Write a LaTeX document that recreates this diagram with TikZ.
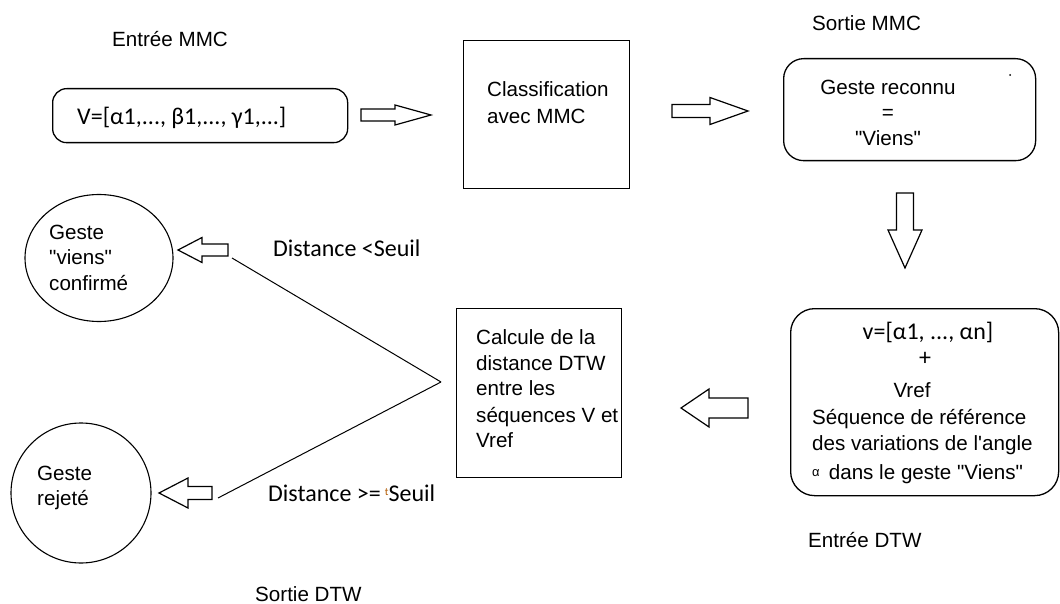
\documentclass[tikz,border=0pt]{standalone}
\usepackage{fontspec}
\setmainfont{Liberation Sans}
\newfontfamily\calf{Carlito}
\usetikzlibrary{shapes.geometric}
\tikzset{
  box/.style={draw, line width=1.3pt, inner sep=0pt},
  rbox/.style={draw, line width=1.3pt, inner sep=0pt, rounded corners=#1},
  oval/.style={draw, line width=1.1pt, inner sep=0pt},
  ar/.style={font=\fontsize{20.6}{24}\selectfont, inner sep=0pt},
  ca/.style={font=\calf\fontsize{24}{28}\selectfont, inner sep=0pt},
  blk/.style={draw, line width=1.2pt, line join=miter},
  conn/.style={draw, line width=1pt}
}
\newcommand\qq{\textquotedbl}
% block arrow: x, y, rotation, length, head length, shaft half width, head half width
\newcommand\blkarrow[7]{%
  \draw[blk, shift={(#1,#2)}, rotate=#3]
    (0,-#6) -- ({#4-#5},-#6) -- ({#4-#5},-#7) -- (#4,0) -- ({#4-#5},#7)
    -- ({#4-#5},#6) -- (0,#6) -- cycle;}
\begin{document}
\begin{tikzpicture}[x=1pt,y=-1pt]
\useasboundingbox (0,0) rectangle (1060,604);

% titles
\node[ar, anchor=base west] (tin)  at (112,47)  {Entrée MMC};
\node[ar, anchor=base west] (tout) at (812,31)  {Sortie MMC};
\node[ar, anchor=base west] (tdin) at (808,547) {Entrée DTW};
\node[ar, anchor=base west] (tdout) at (255,601) {Sortie DTW};

% box 1 : input vector
\node[rbox=14, minimum width=295, minimum height=54, anchor=north west] (vin) at (52,88) {};
\node[ca, anchor=base west] (vintxt) at (77,125) {V=[α1,..., β1,..., γ1,...]};

% box 2 : classification
\node[box, minimum width=166, minimum height=148, anchor=north west] (cls) at (463,40) {};
\node[ar, anchor=base west] (cls1) at (487,97)  {Classification};
\node[ar, anchor=base west] (cls2) at (487,124) {avec MMC};

% box 3 : recognised gesture
\node[rbox=20, minimum width=252, minimum height=102, anchor=north west] (rec) at (783,58) {};
\node[ar, anchor=base] (rec1) at (888,95)  {Geste reconnu};
\node[ar, anchor=base] (rec2) at (888,120) {=};
\node[ar, anchor=base] (rec3) at (888,146) {\qq Viens\qq};
\fill (1010,75) circle (1);

% box 4 : DTW input
\node[rbox=24, minimum width=268, minimum height=187, anchor=north west] (dtwin) at (790,308) {};
\node[ca, anchor=base] (d1) at (928,339) {v=[α1, ..., αn]};
\node[ca, anchor=base] (d2) at (925,365) {+};
\node[ar, anchor=base] (d3) at (912,397) {Vref};
\node[ar, anchor=base west] (d4) at (812,424) {Séquence de référence};
\node[ar, anchor=base west] (d5) at (812,450) {des variations de l\textquotesingle angle};
\node[ar, anchor=base west] (d6) at (812,479) {\raisebox{3pt}{\fontsize{13}{13}\selectfont α}\, dans le geste \qq Viens\qq};

% box 5 : DTW computation
\node[box, minimum width=165, minimum height=169, anchor=north west] (calc) at (456,308) {};
\node[ar, anchor=base west] (c1) at (476,344) {Calcule de la};
\node[ar, anchor=base west] (c2) at (476,370) {distance DTW};
\node[ar, anchor=base west] (c3) at (476,395) {entre les};
\node[ar, anchor=base west] (c4) at (476,422) {séquences V et};
\node[ar, anchor=base west] (c5) at (476,447) {Vref};

% outputs
\node[oval, ellipse, minimum width=148, minimum height=127] (conf) at (99,258) {};
\node[ar, anchor=base west] (o1) at (49,240) {Geste};
\node[ar, anchor=base west] (o2) at (49,265) {\qq viens\qq};
\node[ar, anchor=base west] (o3) at (49,290) {confirmé};

\node[oval, circle, minimum size=140] (rej) at (81,493) {};
\node[ar, anchor=base west] (r1) at (37,480) {Geste};
\node[ar, anchor=base west] (r2) at (37,505) {rejeté};

% decision labels
\node[ca, anchor=base west] (lt) at (273,256) {Distance <Seuil};
\node[ca, anchor=base west] (ge) at (268,501) {Distance >=\,{\fontsize{11}{11}\selectfont\color{orange!70!black}\raisebox{6pt}{t}}Seuil};

% block arrows
\blkarrow{361}{115}{0}{70}{36}{6}{10}
\blkarrow{672}{111}{0}{76}{38}{6.5}{13.5}
\blkarrow{905}{193}{-90}{75}{38}{8.5}{17}
\blkarrow{748}{408}{180}{67}{28}{10}{19}
\blkarrow{228}{250}{180}{50}{24}{6}{12.5}
\blkarrow{212}{493}{180}{53}{29}{6.5}{15}

% decision lines
\coordinate (J) at (441,382);
\coordinate (up) at (232,258);
\coordinate (lo) at (218,498);
\draw[conn] (J) -- (up);
\draw[conn] (J) -- (lo);
\end{tikzpicture}
\end{document}
